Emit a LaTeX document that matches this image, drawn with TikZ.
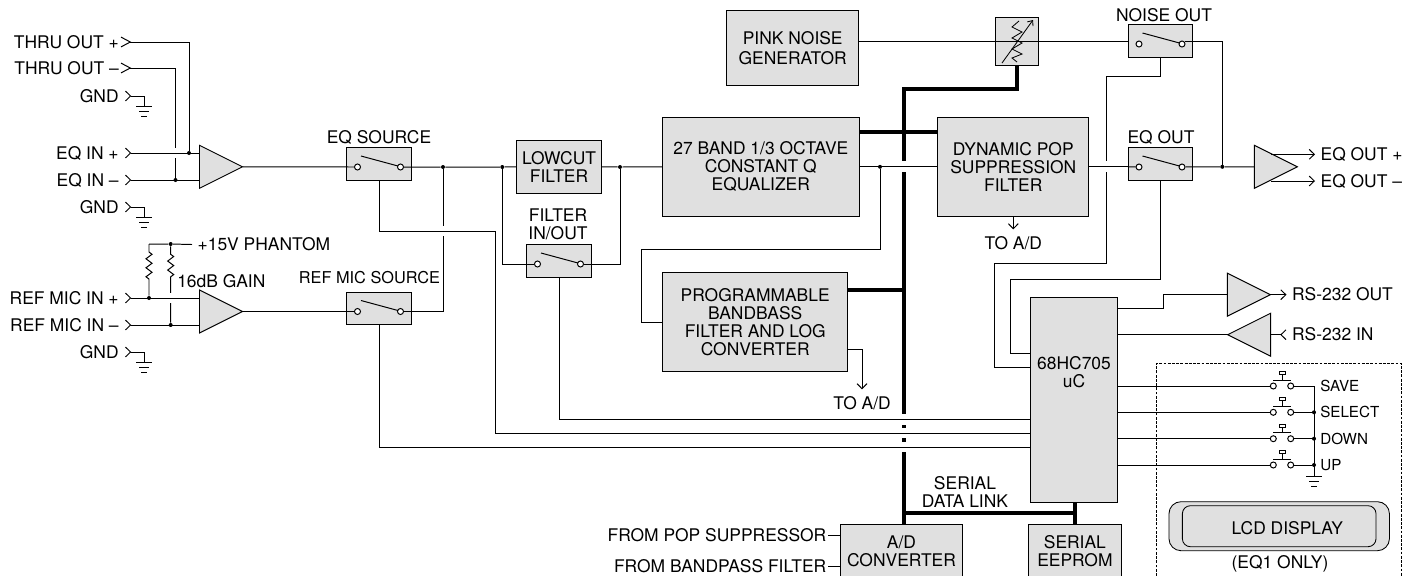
\documentclass[tikz,border=0pt]{standalone}
\usepackage{fontspec}
\setmainfont{TeX Gyre Heros}
\usepackage{tikz}
\usetikzlibrary{calc,arrows.meta,shapes.geometric,backgrounds,decorations.pathmorphing}
\definecolor{blockgray}{gray}{0.88}

\begin{document}
\begin{tikzpicture}[
    x=0.025cm, y=-0.025cm,
    font=\fontsize{12.4}{12.8}\selectfont,
    wire/.style={line width=0.7pt},
    bus/.style={line width=2.8pt},
    crossing/.style={preaction={draw=white,line width=7.8pt,arrows=-}},
    inwire/.style={wire, {Straight Barb[reversed,length=3.6pt,width=7pt,line width=0.7pt]}-},
    longinwire/.style={wire, {Straight Barb[reversed,length=6.6pt,width=7pt,line width=0.7pt]}-},
    outwire/.style={wire, -{Straight Barb[length=3.6pt,width=7pt,line width=0.7pt]}},
    resistor/.style={wire, decorate, decoration={zigzag,segment length=0.225cm,amplitude=0.075cm,pre length=0.2cm,post length=#1}},
    block/.style={rectangle, draw=black, line width=0.7pt, fill=blockgray, inner sep=0pt, align=center},
    amp/.style={isosceles triangle, isosceles triangle apex angle=53.13, draw=black, line width=0.7pt, fill=blockgray, minimum height=1.075cm, inner sep=0pt, outer sep=0pt, anchor=lower side},
    dot/.style={circle, fill=black, inner sep=0pt, minimum size=0.1cm},
    contact/.style={circle, draw=black, line width=0.7pt, fill=white, inner sep=0pt, minimum size=0.15cm},
    caption/.style={inner sep=0pt, align=center},
    port/.style={inner sep=0pt, inner xsep=4.3pt, text height=8.9pt, text depth=0pt, anchor=east},
    thruport/.style={port, inner xsep=1pt},
    outport/.style={inner sep=0pt, inner xsep=3.8pt, text height=8.9pt, text depth=0pt, anchor=west},
    keyname/.style={inner sep=0pt, font=\fontsize{10.8}{12}\selectfont, text height=7.8pt, text depth=0pt, anchor=west},
    toad/.style={inner sep=0pt, inner ysep=5pt, text height=8.9pt, text depth=0pt},
    lcd/.style={rectangle, draw=black, line width=0.6pt, fill=blockgray, inner sep=0pt},
    gnd/.pic={
        \draw[wire] (-8,0) -- (8,0);
        \draw[wire] (-5,5) -- (5,5);
        \draw[wire] (-3,10) -- (3,10);
    },
    switchbox/.pic={
        \node[block, minimum width=1.61cm, minimum height=0.81cm] (-box) at (0,0) {};
        \node[contact] (-in) at (-21.5,3) {};
        \node[contact] (-out) at (21.5,3) {};
        \draw[wire] (-18,-8) -- (19,2);
    },
    pushbutton/.pic={
        \node[contact] (-in) at (-8.7,0) {};
        \node[contact] (-out) at (8.7,0) {};
        \draw[wire] (-8.7,-6) -- (8.7,-6);
        \draw[wire] (0,-6) -- (0,-12);
        \draw[wire] (-3,-14.5) rectangle (3,-11.5);
    }
]
\clip (0,0) rectangle (1410,575);

\node[block, minimum width=3.3cm, minimum height=1.885cm] (PinkNoise) at (792.7,48) {PINK NOISE\\[1.8pt]GENERATOR};
\node[block, minimum width=4.91cm, minimum height=2.475cm] (Equalizer) at (760.8,166.8) {27 BAND 1/3 OCTAVE\\CONSTANT Q\\EQUALIZER};
\node[block, minimum width=2.135cm, minimum height=1.333cm] (Lowcut) at (559,166.8) {LOWCUT\\FILTER};
\node[block, minimum width=3.77cm, minimum height=2.475cm] (DynPop) at (1013.3,166.8) {DYNAMIC POP\\SUPPRESSION\\FILTER};
\node[block, minimum width=4.625cm, minimum height=2.485cm] (Prog) at (755.2,322) {PROGRAMMABLE\\BANDBASS\\FILTER AND LOG\\CONVERTER};
\node[block, minimum width=2.16cm, minimum height=5.135cm] (Mcu) at (1073.8,400) {};
\node[caption] (McuName) at (1074,372) {68HC705\\uC};
\node[block, minimum width=3.04cm, minimum height=1.375cm] (Adc) at (901.5,551.5) {A/D\\CONVERTER};
\node[block, minimum width=2.31cm, minimum height=1.375cm] (Eeprom) at (1074.9,551.5) {SERIAL\\EEPROM};
\node[block, minimum width=1.085cm, minimum height=1.19cm] (Atten) at (1017,41.5) {};

\pic (EqSource) at (379,164) {switchbox};
\pic (RefSource) at (379,308.5) {switchbox};
\pic (FilterSw) at (559,261) {switchbox};
\pic (NoiseOut) at (1160.5,41) {switchbox};
\pic (EqOut) at (1160.5,164) {switchbox};

\node[caption] (EqSourceName) at (379,137) {EQ SOURCE};
\node[caption, font=\fontsize{11.6}{12.8}\selectfont] (RefSourceName) at (369.5,278) {REF MIC SOURCE};
\node[caption] (FilterSwName) at (558,224.5) {FILTER\\IN/OUT};
\node[caption] (NoiseOutName) at (1164,15) {NOISE OUT};
\node[caption] (EqOutName) at (1161,137) {EQ OUT};

\node[amp] (AmpEq) at (199.5,166.8) {};
\node[amp] (AmpRef) at (199.5,311.5) {};
\node[amp] (AmpOut) at (1254.3,166.8) {};
\node[amp] (AmpRsOut) at (1227.3,294.7) {};
\node[amp, shape border rotate=180] (AmpRsIn) at (1270.7,334.7) {};

\node[thruport] (ThruP) at (120.5,42) {THRU OUT +};
\node[thruport] (ThruN) at (120.5,68) {THRU OUT --};
\node[port] (GndA) at (125,96) {GND};
\node[port] (EqInP) at (125,153) {EQ IN +};
\node[port] (EqInN) at (125,180) {EQ IN --};
\node[port] (GndB) at (125,207) {GND};
\node[port] (RefInP) at (125,298) {REF MIC IN +};
\node[port] (RefInN) at (125,325) {REF MIC IN --};
\node[port] (GndC) at (125,352) {GND};
\node[outport] (Phantom) at (192,244.5) {+15V PHANTOM};
\node[caption, anchor=west] (GainName) at (177,281) {16dB GAIN};
\node[outport] (EqOutP) at (1315,154.3) {EQ OUT +};
\node[outport] (EqOutN) at (1315,181) {EQ OUT --};
\node[outport] (RsOut) at (1286.5,294.7) {RS-232 OUT};
\node[outport] (RsIn) at (1286.5,334.7) {RS-232 IN};
\node[toad] (ToAdProg) at (862,403) {TO A/D};
\node[toad] (ToAdPop) at (1013.3,243) {TO A/D};
\node[caption] (LinkName) at (965,492) {SERIAL\\DATA LINK};
\node[port, inner xsep=1pt] (FromPop) at (828,535) {FROM POP SUPPRESSOR};
\node[port, inner xsep=1pt] (FromBand) at (828,566.7) {FROM BANDPASS FILTER};

\node[dot] (DotThruP) at (189,153) {};
\node[dot] (DotThruN) at (175.5,180) {};
\node[dot] (DotSrc) at (443,167) {};
\node[dot] (JoinLeft) at (502.3,167) {};
\node[dot] (JoinRight) at (620,167) {};
\node[dot] (JoinEq) at (880,166.8) {};
\node[dot] (JoinOut) at (1222.3,166.8) {};
\node[dot] (DotPhantom) at (170.7,244) {};
\node[dot] (DotRefP) at (149,298) {};
\node[dot] (DotRefN) at (170.7,325) {};

\coordinate (ResTop) at (149,244);
\coordinate (GndNodeA) at (144,106);
\coordinate (GndNodeB) at (144,217);
\coordinate (GndNodeC) at (144,362);
\coordinate (BusTop) at (903.7,89);
\coordinate (BusEqL) at (859,131.7);
\coordinate (BusEqR) at (938,131.7);
\coordinate (BusProg) at (847.7,290);
\coordinate (LinkStart) at (903.7,512.7);
\coordinate (LinkEnd) at (1074.9,512.7);
\coordinate (McuEq) at (1030.7,353.3);
\coordinate (McuNoise) at (1030.7,367.7);
\coordinate (McuFilter) at (1030.7,419.5);
\coordinate (McuEqSrc) at (1030.7,433);
\coordinate (McuRef) at (1030.7,447);
\coordinate (McuRsOut) at (1117,308);
\coordinate (McuRsIn) at (1117,334.7);
\coordinate (McuSave) at (1117,386);
\coordinate (McuSelect) at (1117,412.3);
\coordinate (McuDown) at (1117,438.7);
\coordinate (McuUp) at (1117,465);
\coordinate (ProgTap) at (847.7,349.3);
\coordinate (NoiseTap) at (1185,41.7);
\coordinate (OutTapP) at (1271,154.3);
\coordinate (OutTapN) at (1271,181);
\coordinate (FromPopEnd) at (840.7,535);
\coordinate (FromBandEnd) at (840.7,566.7);

\begin{scope}[on background layer]
\draw[bus] (Atten.south) |- (BusTop) -- (BusTop |- Adc.north);

\draw[longinwire] (ThruN.east) -| (DotThruN);
\draw[inwire, crossing] (EqInP.east) -- (AmpEq.lower side |- EqInP.east);
\draw[longinwire] (ThruP.east) -| (DotThruP);
\draw[inwire] (EqInN.east) -- (AmpEq.lower side |- EqInN.east);

\draw[resistor=1.05cm] (DotPhantom) -- (DotRefN);
\draw[inwire, crossing] (RefInP.east) -- (AmpRef.lower side |- RefInP.east);
\draw[resistor=0.375cm] (ResTop) -- (DotRefP);
\draw[inwire] (RefInN.east) -- (AmpRef.lower side |- RefInN.east);

\draw[wire] (DotSrc) -- (DotSrc |- RefSource-out);
\draw[wire, crossing] (EqSource-box.south) |- (495,231) |- (McuEqSrc);
\draw[wire, crossing] (FilterSw-box.south) |- (McuFilter);
\draw[wire, crossing] (RefSource-box.south) |- (McuRef);
\draw[wire, crossing] (Equalizer.east) -- (DynPop.west);

\draw[wire] (NoiseOut-box.south) |- (1106.7,76) -- (1106.7,263.3) -- (994.7,263.3) |- (McuNoise);
\draw[wire, crossing] (DynPop.east) -- (EqOut-box.west |- DynPop.east);
\end{scope}

\draw[bus] (Equalizer.east |- BusEqL) -- (BusEqR);
\draw[bus] (BusProg) -- (BusProg -| BusTop);
\draw[bus] (LinkStart) -- (LinkEnd);
\draw[bus] (Mcu.south -| Eeprom) -- (Eeprom.north);

\draw[wire] (ResTop) -- (DotPhantom) -- (Phantom.west);
\draw[inwire] (GndA.east) -| (GndNodeA);
\draw[inwire] (GndB.east) -| (GndNodeB);
\draw[inwire] (GndC.east) -| (GndNodeC);
\pic at (GndNodeA) {gnd};
\pic at (GndNodeB) {gnd};
\pic at (GndNodeC) {gnd};

\draw[wire] (AmpEq.apex) -- (EqSource-in);
\draw[wire] (EqSource-out) -- (DotSrc) -- (JoinLeft) -- (Lowcut.west);
\draw[wire] (Lowcut.east) -- (JoinRight) -- (Equalizer.west);
\draw[wire] (AmpRef.apex) -- (RefSource-in);
\draw[wire] (RefSource-out) -- (DotSrc |- RefSource-out);
\draw[wire] (JoinLeft) |- (FilterSw-in);
\draw[wire] (JoinRight) |- (FilterSw-out);
\draw[wire] (JoinEq) |- (641.7,249.3) |- (Prog.west);
\draw[outwire] (ProgTap) -| (ToAdProg.north);
\draw[outwire] (DynPop.south) -- (ToAdPop.north);

\draw[wire] (PinkNoise.east |- Atten.east) -- (Atten.east) -- (NoiseOut-box.west |- Atten.east);
\draw[wire] (EqOut-box.west |- DynPop.east) -- (EqOut-in);
\draw[wire] (EqOut-out) -- (JoinOut) -- (AmpOut.lower side);
\draw[wire] (NoiseTap) -| (JoinOut);
\draw[wire] (EqOut-box.south) |- (1010.7,279.3) |- (McuEq);
\draw[outwire] (OutTapP) -- (EqOutP.west);
\draw[outwire] (OutTapN) -- (EqOutN.west);

\draw[wire] (FromPop.east) -- (FromPopEnd);
\draw[wire] (FromBand.east) -- (FromBandEnd);

\draw[wire] (McuRsOut) -| (1163.3,294.7) -- (AmpRsOut.lower side);
\draw[outwire] (AmpRsOut.apex) -- (RsOut.west);
\draw[wire] (McuRsIn) -- (AmpRsIn.apex);
\draw[inwire] (RsIn.west) -- (AmpRsIn.lower side);

\draw[wire, line width=0.6pt] (1019,21) -- (1012,27) -- (1022,32) -- (1012,38) -- (1022,43) -- (1012,49) -- (1022,54) -- (1012,58) -- (1017,62);
\draw[wire, line width=0.6pt, -{Straight Barb[length=3pt,width=5pt]}] (1002,63) -- (1033,20);

\coordinate (PanelBL) at (1156.7,580);
\coordinate (PanelTR) at (1401.3,363.3);
\coordinate (PanelBR) at (1401.3,580);
\draw[line width=0.5pt, dash pattern=on 2pt off 1pt] (PanelBL) |- (PanelTR) -- (PanelBR);

\pic (BtnSave) at (1282,386) {pushbutton};
\pic (BtnSelect) at (1282,412.3) {pushbutton};
\pic (BtnDown) at (1282,438.7) {pushbutton};
\pic (BtnUp) at (1282,465) {pushbutton};
\node[dot] (DotSelect) at (1314,412.3) {};
\node[dot] (DotDown) at (1314,438.7) {};
\node[dot] (DotUp) at (1314,465) {};
\coordinate (KeyTop) at (1314,386);
\coordinate (KeyGnd) at (1314,476);
\draw[wire] (McuSave) -- (BtnSave-in);
\draw[wire] (McuSelect) -- (BtnSelect-in);
\draw[wire] (McuDown) -- (BtnDown-in);
\draw[wire] (McuUp) -- (BtnUp-in);
\draw[wire] (BtnSave-out) -- (KeyTop) -- (KeyGnd);
\draw[wire] (BtnSelect-out) -- (DotSelect);
\draw[wire] (BtnDown-out) -- (DotDown);
\draw[wire] (BtnUp-out) -- (DotUp);
\pic at (KeyGnd) {gnd};
\node[keyname] (KeySave) at (1320,386) {SAVE};
\node[keyname] (KeySelect) at (1320,412.3) {SELECT};
\node[keyname] (KeyDown) at (1320,438.7) {DOWN};
\node[keyname] (KeyUp) at (1320,465) {UP};

\node[lcd, rounded corners=0.3cm, minimum width=5.51cm, minimum height=1.225cm] (LcdOuter) at (1279.2,526.2) {};
\node[lcd, rounded corners=0.2cm, minimum width=4.84cm, minimum height=1.025cm] (LcdInner) at (1279.2,526.2) {};
\node[caption] (LcdName) at (1287.3,527.7) {LCD DISPLAY};
\node[caption] (LcdNote) at (1280,564) {(EQ1 ONLY)};
\end{tikzpicture}
\end{document}
